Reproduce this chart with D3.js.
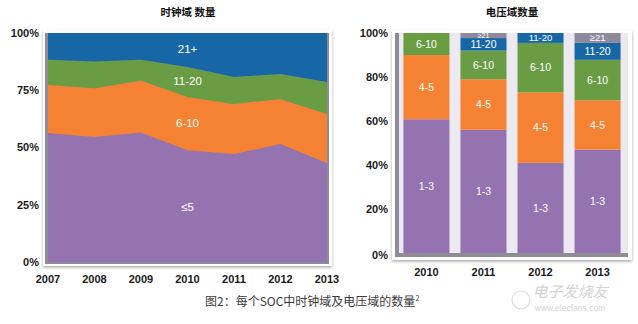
<!DOCTYPE html>
<html>
<head>
<meta charset="utf-8">
<script src="https://cdn.jsdelivr.net/npm/d3@7"></script>
<style>
  body { margin: 0; background: #fff; }
  svg { display: block; }
  text { font-family: "Liberation Sans", Arial, sans-serif; }
</style>
</head>
<body>
<svg id="chart" width="638" height="324"></svg>
<script>
// données (en %)
var clkYears = ["2007", "2008", "2009", "2010", "2011", "2012", "2013"];
var clkLe5   = [56.3, 54.6, 56.6, 48.8, 47.2, 51.5, 43.2];
var clk6_10  = [21.1, 21.3, 22.7, 23.2, 21.8, 19.7, 21.4];
var clk11_20 = [10.9, 11.7, 9.0, 13.1, 11.8, 10.9, 14.0];
var clk21    = [11.7, 12.4, 11.7, 14.9, 19.2, 17.9, 21.4];
var clkLabels = ["≤5", "6-10", "11-20", "21+"];

var voltYears = ["2010", "2011", "2012", "2013"];
var volt1_3   = [60.8, 56.0, 41.0, 47.0];
var volt4_5   = [29.2, 23.0, 32.0, 22.4];
var volt6_10  = [10.0, 13.0, 22.5, 18.4];
var volt11_20 = [0, 5.7, 4.5, 7.7];
var volt21    = [0, 2.3, 0, 4.5];
var voltLabels = ["1-3", "4-5", "6-10", "11-20", "≥21"];

var yTicksClk = [0, 25, 50, 75, 100];
var yTicksVolt = [0, 20, 40, 60, 80, 100];

var colors = ["#9572b0", "#f58232", "#6a9c44", "#1766a6", "#8c8a9c"];

var svg = d3.select("#chart");

// ombre portée des cadres
var defs = svg.append("defs");
var f = defs.append("filter").attr("id", "shadow")
  .attr("x", "-10%").attr("y", "-10%").attr("width", "120%").attr("height", "120%");
f.append("feDropShadow").attr("dx", 0).attr("dy", 1.5).attr("stdDeviation", 1.8)
  .attr("flood-color", "#000").attr("flood-opacity", 0.35);

// ---------- graphique 1 : aires empilées ----------
var x1 = d3.scalePoint().domain(clkYears).range([48, 327]);
var y1 = d3.scaleLinear().domain([0, 100]).range([262, 33]);

svg.append("rect").attr("x", 43).attr("y", 30).attr("width", 289).attr("height", 236)
  .attr("fill", "#fff").attr("filter", "url(#shadow)");
svg.append("rect").attr("x", 45).attr("y", 33).attr("width", 284).attr("height", 231)
  .attr("fill", "#8e8c98");

var clkRows = clkYears.map(function(y, i) {
  return { year: y, s0: clkLe5[i], s1: clk6_10[i], s2: clk11_20[i], s3: clk21[i] };
});
var clkStack = d3.stack().keys(["s0", "s1", "s2", "s3"])(clkRows);

var area = d3.area()
  .x(function(d) { return x1(d.data.year); })
  .y0(function(d) { return y1(d[0]); })
  .y1(function(d) { return y1(d[1]); });

svg.append("g").selectAll("path").data(clkStack).enter().append("path")
  .attr("d", area)
  .attr("fill", function(d, i) { return colors[i]; });

// étiquettes des couches (au niveau de 2010)
var labelPos = [[clkYears[3], 24], [clkYears[3], 60.5], [clkYears[3], 79], [clkYears[3], 93]];
svg.append("g").selectAll("text").data(clkLabels).enter().append("text")
  .attr("x", function(d, i) { return x1(labelPos[i][0]); })
  .attr("y", function(d, i) { return y1(labelPos[i][1]); })
  .attr("dy", "0.35em")
  .attr("text-anchor", "middle")
  .attr("fill", "#fff")
  .style("font-size", "11.5px")
  .text(function(d) { return d; });

svg.append("g").selectAll("text").data(yTicksClk).enter().append("text")
  .attr("x", 39).attr("y", function(d) { return y1(d); })
  .attr("dy", "0.35em").attr("text-anchor", "end")
  .attr("fill", "#1a1a1a").style("font-size", "11px").style("font-weight", "bold")
  .text(function(d) { return d + "%"; });

svg.append("g").selectAll("text").data(clkYears).enter().append("text")
  .attr("x", function(d) { return x1(d); }).attr("y", 279)
  .attr("dy", "0.35em").attr("text-anchor", "middle")
  .attr("fill", "#1a1a1a").style("font-size", "11px").style("font-weight", "bold")
  .text(function(d) { return d; });

svg.append("text").attr("x", 188).attr("y", 16).attr("text-anchor", "middle")
  .style("font-family", "'Noto Sans CJK SC'").style("font-size", "10.5px").style("font-weight", "bold")
  .attr("fill", "#111").text("时钟域 数量");

// ---------- graphique 2 : barres empilées ----------
var x2 = d3.scaleBand().domain(voltYears).range([396, 628]).paddingInner(0.193).paddingOuter(0.13);
var y2 = d3.scaleLinear().domain([0, 100]).range([253, 33]);

svg.append("rect").attr("x", 392).attr("y", 30).attr("width", 240).attr("height", 230)
  .attr("fill", "#fff").attr("filter", "url(#shadow)");
svg.append("rect").attr("x", 395).attr("y", 33).attr("width", 233).attr("height", 224)
  .attr("fill", "#8e8c98");
svg.append("rect").attr("x", 399).attr("y", 33).attr("width", 229).attr("height", 220)
  .attr("fill", "#ece9f1");

var voltRows = voltYears.map(function(y, i) {
  return { year: y, s0: volt1_3[i], s1: volt4_5[i], s2: volt6_10[i], s3: volt11_20[i], s4: volt21[i] };
});
var voltStack = d3.stack().keys(["s0", "s1", "s2", "s3", "s4"])(voltRows);

var layers = svg.append("g").selectAll("g").data(voltStack).enter().append("g")
  .attr("fill", function(d, i) { return colors[i]; });

layers.selectAll("rect").data(function(d) { return d; }).enter().append("rect")
  .attr("x", function(d) { return x2(d.data.year); })
  .attr("y", function(d) { return y2(d[1]); })
  .attr("width", x2.bandwidth())
  .attr("height", function(d) { return y2(d[0]) - y2(d[1]); });

voltStack.forEach(function(layer, li) {
  svg.append("g").selectAll("text").data(layer.filter(function(d) { return d[1] - d[0] > 1.5; }))
    .enter().append("text")
    .attr("x", function(d) { return x2(d.data.year) + x2.bandwidth() / 2; })
    .attr("y", function(d) { return y2((d[0] + d[1]) / 2); })
    .attr("dy", "0.35em").attr("text-anchor", "middle")
    .attr("fill", "#fff")
    .style("font-size", function(d) {
      var h = y2(d[0]) - y2(d[1]);
      return h < 7 ? "7px" : (h < 11 ? "9.5px" : "10.5px");
    })
    .text(voltLabels[li]);
});

svg.append("g").selectAll("text").data(yTicksVolt).enter().append("text")
  .attr("x", 388).attr("y", function(d) { return d == 0 ? 255 : y2(d); })
  .attr("dy", "0.35em").attr("text-anchor", "end")
  .attr("fill", "#1a1a1a").style("font-size", "11px").style("font-weight", "bold")
  .text(function(d) { return d + "%"; });

svg.append("g").selectAll("text").data(voltYears).enter().append("text")
  .attr("x", function(d) { return x2(d) + x2.bandwidth() / 2; }).attr("y", 272)
  .attr("dy", "0.35em").attr("text-anchor", "middle")
  .attr("fill", "#1a1a1a").style("font-size", "11px").style("font-weight", "bold")
  .text(function(d) { return d; });

svg.append("text").attr("x", 512).attr("y", 16).attr("text-anchor", "middle")
  .style("font-family", "'Noto Sans CJK SC'").style("font-size", "10.5px").style("font-weight", "bold")
  .attr("fill", "#111").text("电压域数量");

// légende du bas + filigrane
var cap = svg.append("text").attr("x", 205).attr("y", 306)
  .style("font-family", "'Noto Sans CJK SC'").style("font-size", "12px")
  .attr("fill", "#3a3a3a");
cap.append("tspan").text("图2：每个SOC中时钟域及电压域的数量");
cap.append("tspan").attr("dy", -5).style("font-size", "7px").text("2");

svg.append("text").attr("x", 570).attr("y", 297).attr("text-anchor", "middle")
  .style("font-family", "'Noto Sans CJK SC'").style("font-size", "15px").style("font-style", "italic")
  .attr("fill", "#d4d4d4").text("电子发烧友");
svg.append("text").attr("x", 570).attr("y", 311).attr("text-anchor", "middle")
  .style("font-size", "8.5px").attr("fill", "#d4d4d4").text("www.elecfans.com");
svg.append("circle").attr("cx", 521).attr("cy", 300).attr("r", 9)
  .attr("fill", "none").attr("stroke", "#dcdcdc").attr("stroke-width", 1.2);
</script>
</body>
</html>
